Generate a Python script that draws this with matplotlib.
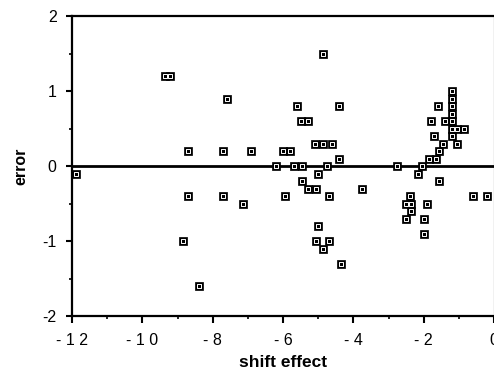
import matplotlib
matplotlib.use('Agg')
import matplotlib.pyplot as plt
from matplotlib.ticker import MultipleLocator

plt.rcParams['font.family'] = ['Liberation Sans', 'DejaVu Sans']

# shift effect (x) and error (y)
shift = [-11.9, -9.35, -9.2, -7.6, -8.7, -7.7, -6.9, -8.7, -7.7, -7.15, -8.85, -8.4,
         -4.85, -5.6, -4.4, -5.5, -5.3, -5.1, -4.85, -4.6, -6.0, -5.8, -4.4,
         -6.2, -5.7, -5.45, -4.75, -5.0, -5.45, -5.3, -5.05, -5.95, -4.7, -3.75,
         -5.0, -5.05, -4.7, -4.85, -4.35,
         -2.75, -2.05, -2.15, -1.55, -2.4, -2.5, -2.35, -2.35, -2.5,
         -1.9, -2.0, -2.0, -0.6, -0.2,
         -1.2, -1.2, -1.2, -1.2, -1.2, -1.6, -1.8, -1.4,
         -1.2, -1.05, -0.85, -1.7, -1.2, -1.45, -1.05, -1.55, -1.85, -1.65]
error = [-0.1, 1.2, 1.2, 0.9, 0.2, 0.2, 0.2, -0.4, -0.4, -0.5, -1.0, -1.6,
         1.5, 0.8, 0.8, 0.6, 0.6, 0.3, 0.3, 0.3, 0.2, 0.2, 0.1,
         0.0, 0.0, 0.0, 0.0, -0.1, -0.2, -0.3, -0.3, -0.4, -0.4, -0.3,
         -0.8, -1.0, -1.0, -1.1, -1.3,
         0.0, 0.0, -0.1, -0.2, -0.4, -0.5, -0.5, -0.6, -0.7,
         -0.5, -0.7, -0.9, -0.4, -0.4,
         1.0, 0.9, 0.8, 0.7, 0.6, 0.8, 0.6, 0.6,
         0.5, 0.5, 0.5, 0.4, 0.4, 0.3, 0.3, 0.2, 0.1, 0.1]

xticks = [-12, -10, -8, -6, -4, -2, 0]
xtick_labels = ['- 1 2', '- 1 0', '- 8', '- 6', '- 4', '- 2', '0']
yticks = [-2, -1, 0, 1, 2]
ytick_labels = ['-2', '-1', '0', '1', '2']

fig = plt.figure(figsize=(4.94, 3.77), dpi=100)
ax = fig.add_axes([72 / 494, 61 / 377, 422 / 494, 300 / 377])

ax.axhline(0, color='black', lw=2.0, zorder=2)
ax.scatter(shift, error, marker='s', s=38, facecolor='black', edgecolor='black',
           linewidth=0.5, zorder=3)
ax.scatter(shift, error, marker='s', s=5, facecolor='black', edgecolor='white',
           linewidth=0.7, zorder=4)

ax.set_xlim(-12, 0)
ax.set_ylim(-2, 2)
ax.set_xticks(xticks)
ax.set_xticklabels(xtick_labels)
ax.set_yticks(yticks)
ax.set_yticklabels(ytick_labels)
ax.xaxis.set_minor_locator(MultipleLocator(1))
ax.yaxis.set_minor_locator(MultipleLocator(0.5))

ax.tick_params(axis='both', which='major', direction='out', width=1.5,
               labelsize=11.5, color='black')
ax.tick_params(axis='x', which='major', length=5, pad=7)
ax.tick_params(axis='y', which='major', length=4, pad=7)
ax.tick_params(axis='both', which='minor', direction='out', width=1.2, length=2.5)

for side in ['left', 'bottom', 'top']:
    ax.spines[side].set_linewidth(1.6)
ax.spines['right'].set_linewidth(0.8)

ax.set_xlabel('shift effect', fontsize=12.5, fontweight='bold', labelpad=5)
ax.set_ylabel('error', fontsize=11.5, fontweight='bold', labelpad=10)

fig.savefig('out.png', dpi=100, facecolor='white')
plt.close(fig)
